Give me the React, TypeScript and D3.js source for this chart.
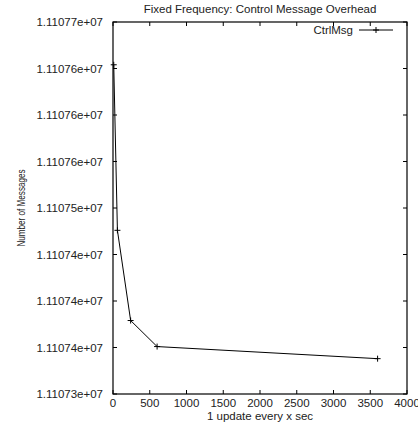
import React from "react";
import * as d3 from "d3";

const xValues = [10, 60, 240, 600, 3600];
const yValues = [11107765.4, 11107747.6, 11107737.9, 11107735.1, 11107733.8];
const xTicks = [0, 500, 1000, 1500, 2000, 2500, 3000, 3500, 4000];
const yTicks = [11107730, 11107735, 11107740, 11107745, 11107750, 11107755, 11107760, 11107765, 11107770];
const yTickLabels = [
  "1.11073e+07", "1.11074e+07", "1.11074e+07", "1.11074e+07", "1.11075e+07",
  "1.11076e+07", "1.11076e+07", "1.11076e+07", "1.11077e+07",
];
const seriesName = "CtrlMsg";
const title = "Fixed Frequency: Control Message Overhead";
const xLabel = "1 update every x sec";
const yLabel = "Number of Messages";

export default function App() {
  const W = 418, H = 425;
  const L = 113, R = 407, T = 22, B = 394;
  const x = d3.scaleLinear().domain([0, 4000]).range([L, R]);
  const y = d3.scaleLinear().domain([11107730, 11107770]).range([B, T]);
  const line = d3.line<number>().x((_, i) => x(xValues[i])).y((d) => y(d));
  const font = "'Liberation Sans', Arial, Helvetica, sans-serif";
  const fs = 11.5;
  const tl = 4;
  const legY = 30;
  return (
    <svg width={W} height={H} style={{ position: "absolute", left: 0, top: 0, background: "#fff" }} fontFamily={font}>
      <rect x={0} y={0} width={W} height={H} fill="#fff" />
      <text x={260} y={13} fontSize={fs} textAnchor="middle" fill="#222">{title}</text>
      {xTicks.map((t) => (
        <g key={"x" + t}>
          <line x1={x(t)} x2={x(t)} y1={B} y2={B - tl} stroke="#000" />
          <line x1={x(t)} x2={x(t)} y1={T} y2={T + tl} stroke="#000" />
          <text x={x(t)} y={B + 13} fontSize={fs} textAnchor="middle" fill="#222">{t}</text>
        </g>
      ))}
      {yTicks.map((t, i) => (
        <g key={"y" + t}>
          <line x1={L} x2={L + tl} y1={y(t)} y2={y(t)} stroke="#000" />
          <line x1={R} x2={R - tl} y1={y(t)} y2={y(t)} stroke="#000" />
          <text x={103} y={y(t) + 4} fontSize={fs} textAnchor="end" fill="#222">{yTickLabels[i]}</text>
        </g>
      ))}
      <rect x={L} y={T} width={R - L} height={B - T} fill="none" stroke="#000" strokeWidth={1.2} />
      <text x={260} y={420} fontSize={fs} textAnchor="middle" fill="#222">{xLabel}</text>
      <text
        transform={`translate(25,${(T + B) / 2}) rotate(-90)`}
        fontSize={fs}
        textAnchor="middle"
        fill="#222"
        textLength={77}
        lengthAdjust="spacingAndGlyphs"
      >
        {yLabel}
      </text>
      <path d={line(yValues) ?? ""} fill="none" stroke="#000" strokeWidth={1} />
      {yValues.map((v, i) => (
        <path key={i} d={`M${x(xValues[i]) - 3},${y(v)}h6M${x(xValues[i])},${y(v) - 3}v6`} stroke="#000" strokeWidth={1} />
      ))}
      <text x={353} y={legY + 4} fontSize={fs} textAnchor="end" fill="#222">{seriesName}</text>
      <line x1={359} x2={393} y1={legY} y2={legY} stroke="#000" />
      <path d={`M373,${legY}h6M376,${legY - 3}v6`} stroke="#000" />
    </svg>
  );
}
